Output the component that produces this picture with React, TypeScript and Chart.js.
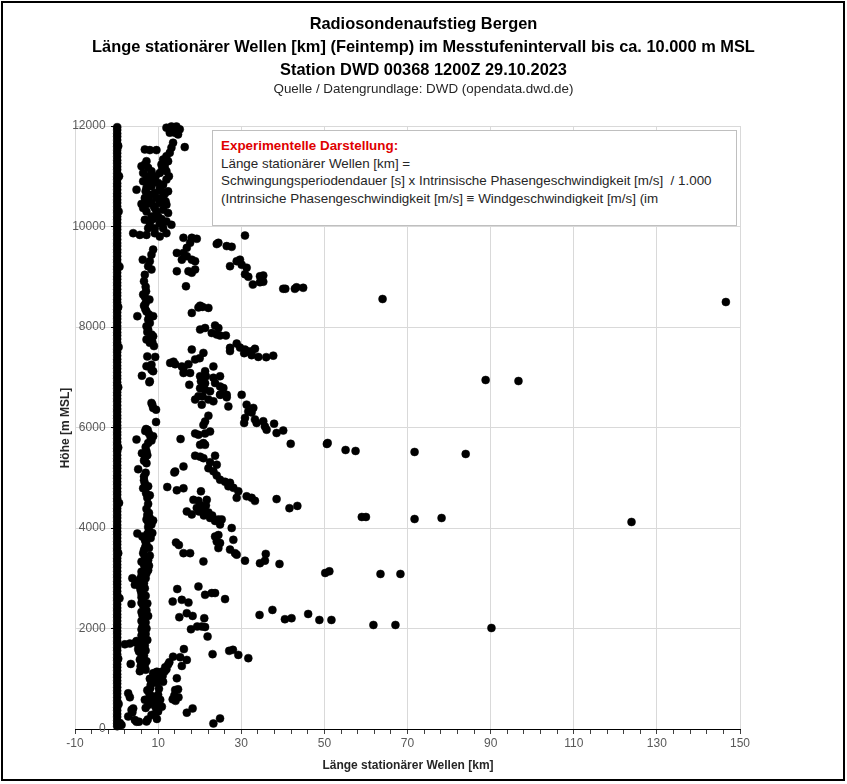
import { useEffect, useRef } from "react";
import { Chart, registerables } from "chart.js";

Chart.register(...registerables);

const FONT = "'Liberation Sans Narrow', 'Liberation Sans', Arial, sans-serif";

const titleLines = [
  "Radiosondenaufstieg Bergen",
  "Länge stationärer Wellen [km] (Feintemp) im Messtufenintervall bis ca. 10.000 m MSL",
  "Station DWD 00368 1200Z 29.10.2023",
];
const subtitle = "Quelle / Datengrundlage: DWD (opendata.dwd.de)";
const noteTitle = "Experimentelle Darstellung:";
const noteLines = [
  "Länge stationärer Wellen [km] =",
  "Schwingungsperiodendauer [s] x Intrinsische Phasengeschwindigkeit [m/s]  / 1.000",
  "(Intrinsiche Phasengeschwindigkeit [m/s] ≡ Windgeschwindigkeit [m/s] (im",
];
const xTitle = "Länge stationärer Wellen [km]";
const yTitle = "Höhe [m MSL]";

const xLabels = [-10, 10, 30, 50, 70, 90, 110, 130, 150];
const yLabels = [0, 2000, 4000, 6000, 8000, 10000, 12000];

// heights of the dense column at ~0 km
const zeroColumnHeights = [
  55, 110, 170, 240, 300, 370, 430, 500, 560, 630, 700, 760, 830, 900, 960, 1030, 1090, 1160, 1230,
  1290, 1360, 1420, 1490, 1560, 1620, 1690, 1750, 1820, 1890, 1950, 2020, 2080, 2150, 2220, 2280,
  2350, 2410, 2480, 2550, 2610, 2680, 2740, 2810, 2880, 2940, 3010, 3070, 3140, 3210, 3270, 3340,
  3400, 3470, 3540, 3600, 3670, 3730, 3800, 3870, 3930, 4000, 4060, 4130, 4200, 4260, 4330, 4390,
  4460, 4530, 4590, 4660, 4720, 4790, 4860, 4920, 4990, 5050, 5120, 5190, 5250, 5320, 5380, 5450,
  5520, 5580, 5650, 5710, 5780, 5850, 5910, 5980, 6040, 6110, 6180, 6240, 6310, 6370, 6440, 6510,
  6570, 6640, 6700, 6770, 6840, 6900, 6970, 7030, 7100, 7170, 7230, 7300, 7360, 7430, 7500, 7560,
  7630, 7690, 7760, 7830, 7890, 7960, 8020, 8090, 8160, 8220, 8290, 8350, 8420, 8490, 8550, 8620,
  8680, 8750, 8820, 8880, 8950, 9010, 9080, 9150, 9210, 9280, 9340, 9410, 9480, 9540, 9610, 9670,
  9740, 9810, 9870, 9940, 10000, 10070, 10140, 10200, 10270, 10330, 10400, 10470, 10530, 10600,
  10660, 10730, 10800, 10860, 10930, 10990, 11060, 11130, 11190, 11260, 11320, 11390, 11460, 11520,
  11590, 11650, 11720, 11790, 11850, 11920, 11975,
];
const zeroBulges: [number, number][] = [
  [1.2, 80], [0.8, 120], [0.6, 11000], [0.5, 10300], [0.7, 9200], [0.5, 7600], [0.6, 4500], [0.7, 2600],
  [0.4, 11600], [0.4, 8400], [0.4, 6800], [0.4, 5600], [0.4, 3500], [0.4, 1400], [0.5, 500],
];

const innerColumn: [number, number][] = [
  [5.6, 1150], [6.0, 1200], [5.8, 1250], [6.0, 1310], [5.6, 1380], [6.2, 1430], [6.0, 1480], [5.4, 1540],
  [5.2, 1590], [5.8, 1640], [5.6, 1690], [4.8, 1750], [6.2, 1720], [6.4, 1800], [6.0, 1860], [6.4, 1920],
  [6.0, 1980], [6.2, 2030], [6.4, 2090], [6.0, 2150], [6.8, 2220], [6.2, 2270], [6.0, 2330], [6.8, 2400],
  [6.4, 2460], [6.0, 2510], [6.4, 2560], [6.0, 2620], [6.0, 2690], [5.8, 2760], [5.6, 2830], [5.2, 2920],
  [5.6, 2980], [6.0, 3050], [6.0, 3130], [7.6, 3160], [6.8, 3200], [6.6, 3270], [6.0, 3330], [7.6, 3360],
  [6.8, 3430], [6.4, 3500], [6.6, 3560], [6.9, 3620], [7.2, 3670], [7.0, 3720], [6.8, 3770], [6.2, 3830],
  [7.4, 3880], [7.8, 3950], [7.6, 4020], [8.4, 4070], [7.6, 4120], [7.2, 4170], [8.0, 4200], [7.4, 4260],
  [7.0, 1180], [6.8, 1280], [7.2, 1350], [6.6, 1460], [7.0, 1560], [6.8, 1660], [7.4, 1770], [7.0, 1890],
  [7.2, 2000], [7.0, 2120], [7.6, 2250], [7.2, 2360], [7.4, 2500], [7.0, 2650], [6.8, 2800], [6.6, 2900],
  [7.0, 3000], [7.2, 3100], [7.8, 3250], [8.0, 3450], [7.8, 3600], [8.2, 3800], [8.6, 3900], [8.8, 4150],
  [2.0, 1685], [3.2, 1700], [3.4, 1295], [3.6, 2490], [3.8, 3000], [4.4, 2870], [5.0, 3890], [4.6, 1720],
  [7.8, 4300], [7.2, 4380], [7.6, 4480], [7.4, 4600], [8.0, 4650], [7.1, 4690], [6.4, 4790], [7.6, 4830],
  [6.8, 4890], [6.6, 4950], [6.6, 5025], [7.0, 5100], [5.2, 5170], [7.2, 5290], [6.6, 5340], [6.8, 5390],
  [7.4, 5450], [6.1, 5490], [7.2, 5520], [7.0, 5610], [7.6, 5690], [8.4, 5740], [4.8, 5760], [8.2, 5800],
  [8.8, 5825], [7.8, 5880], [6.9, 5930], [7.5, 5950], [7.1, 5970], [9.5, 6110], [9.5, 6355], [8.6, 6455],
  [8.4, 6490], [8.8, 6390], [8.0, 6920], [7.9, 6900], [6.1, 7030], [8.8, 7120], [8.4, 7150], [7.2, 7220],
  [8.4, 7250], [9.3, 7405], [7.4, 7415], [9.0, 7620], [8.0, 7685], [8.6, 7700], [7.2, 7750], [8.8, 7815],
  [8.4, 7850], [7.4, 7900], [7.6, 7950], [7.2, 8015], [8.0, 8080], [7.6, 8150], [8.8, 8215], [5.0, 8215],
  [7.8, 8250], [7.2, 8310], [6.9, 8360], [6.6, 8425], [7.0, 8480], [7.9, 8545], [6.8, 8600], [6.4, 8645],
  [7.1, 8710], [7.0, 8800], [6.6, 8910], [6.8, 9040], [8.4, 9145], [7.6, 9210], [8.0, 9310], [6.3, 9340],
  [8.4, 9440], [8.8, 9540],
];

const topCluster: [number, number][] = [
  [12.0, 11967], [13.2, 11990], [14.4, 11990], [15.2, 11933], [12.8, 11867], [14.0, 11867], [14.8, 11833],
  [16.4, 11580], [13.6, 11667], [13.2, 11567], [12.8, 11467], [12.0, 11400], [11.2, 11333], [6.8, 11533],
  [8.0, 11520], [9.6, 11520], [10.8, 11233], [11.6, 11167], [12.0, 11100], [10.4, 11067], [6.0, 11200],
  [6.8, 11233], [7.6, 11167], [6.4, 11067], [7.2, 11000], [8.4, 11100], [8.8, 10967], [6.4, 10900],
  [7.6, 10867], [4.8, 10733], [7.2, 10767], [8.4, 10800], [10.0, 10867], [11.2, 10833], [12.0, 10933],
  [10.8, 10700], [9.2, 10667], [8.0, 10633], [6.8, 10567], [9.6, 10567], [11.2, 10567], [10.4, 10467],
  [12.0, 10433], [8.4, 10467], [6.4, 10367], [7.2, 10300], [9.2, 10367], [11.2, 10333], [12.4, 10267],
  [8.4, 10200], [10.0, 10200], [6.8, 10133], [8.0, 10067], [10.4, 10067], [12.0, 10100], [13.2, 10033],
  [9.2, 9967], [11.2, 9967], [7.6, 9967], [4.0, 9867], [5.6, 9833], [7.2, 9833], [9.2, 9867], [10.4, 9800],
  [12.0, 9867], [11.6, 11250], [12.4, 11300], [7.2, 11300], [8.0, 11000], [7.0, 10700], [10.4, 10750],
  [11.6, 10650], [9.0, 10400], [10.8, 10150], [7.4, 10450], [12.6, 11000], [9.6, 10300], [10.6, 10550],
  [11.8, 10500], [8.6, 10900], [9.4, 11000], [11.0, 11150], [12.4, 10700], [6.0, 10450], [7.8, 10550],
  [11.0, 10050], [8.8, 10150],
];

const streaks: [number, number][] = [
  [16.1, 9775], [18.1, 9775], [19.3, 9755], [17.7, 9675], [16.9, 9575], [14.5, 9475], [16.1, 9475],
  [15.7, 9340], [16.9, 9410], [18.1, 9340], [18.9, 9310], [14.5, 9110], [17.3, 9110], [18.9, 9145],
  [18.1, 9080], [16.7, 8810], [24.5, 9675], [24.1, 9650], [26.5, 9610], [27.7, 9595], [30.9, 9820],
  [27.3, 9210], [28.9, 9310], [29.7, 9340], [30.1, 9240], [31.3, 9180], [30.9, 9050], [31.7, 9000],
  [32.8, 8845], [34.5, 9010], [35.3, 9025], [34.5, 8890], [35.3, 8900], [40.1, 8760], [40.6, 8760],
  [42.9, 8760], [43.3, 8790], [44.9, 8780],
  [18.1, 8280], [20.1, 8425], [19.7, 8390], [20.7, 8400], [22.1, 8380], [20.1, 7950], [21.3, 7980],
  [23.7, 8030], [24.5, 7980], [22.9, 7880], [24.1, 7850], [24.9, 7830], [26.3, 7830], [27.3, 7585],
  [28.9, 7670], [27.3, 7520], [29.7, 7590], [30.9, 7550], [30.7, 7480], [31.7, 7510], [32.5, 7515],
  [33.3, 7565], [32.5, 7440], [34.1, 7405], [36.0, 7400], [37.7, 7430], [18.1, 7550], [20.9, 7485],
  [20.0, 7380], [12.9, 7285], [13.7, 7310], [14.1, 7260], [15.7, 7215], [16.1, 7180], [17.3, 7260],
  [18.9, 7355], [16.1, 7085], [17.7, 7085], [17.5, 6850], [20.1, 7020], [21.3, 7120], [21.5, 7020],
  [23.3, 7215], [20.3, 6920], [21.3, 6880], [23.3, 6990], [24.9, 7020], [23.7, 6885], [24.9, 6815],
  [25.7, 6785], [20.1, 6780], [21.3, 6750], [22.5, 6720], [19.7, 6620], [20.7, 6620], [24.9, 6650],
  [26.5, 6650], [30.1, 6650],
  [18.9, 6555], [20.5, 6455], [22.1, 6555], [23.3, 6520], [25.0, 6655], [26.5, 6600], [26.9, 6420],
  [31.3, 6455], [32.9, 6390], [31.7, 6320], [32.5, 6300], [30.9, 6190], [30.7, 6090], [33.3, 6160],
  [33.7, 6090], [35.3, 6125], [35.7, 6020], [36.1, 5955], [37.9, 6075], [38.5, 5890], [40.1, 5940],
  [41.9, 5675], [22.1, 6235], [21.3, 6120], [20.9, 6050], [22.5, 5920], [21.3, 5880], [19.7, 5855],
  [18.9, 5880], [15.4, 5770], [20.9, 5690], [20.1, 5655], [21.3, 5655],
  [18.9, 5440], [20.1, 5420], [20.9, 5390], [23.7, 5440], [22.5, 5310], [24.1, 5260], [22.1, 5190],
  [23.3, 5130], [24.1, 5045], [24.9, 4960], [26.1, 4920], [27.3, 4900], [26.9, 4830], [28.1, 4800],
  [29.3, 4730], [28.9, 4600], [31.3, 4630], [32.5, 4600], [33.3, 4540], [38.5, 4575], [41.6, 4395],
  [43.5, 4440], [14.1, 5125], [13.9, 5105], [16.1, 5225], [12.2, 4815], [14.5, 4750], [16.1, 4790],
  [20.3, 4730], [18.5, 4560], [19.7, 4540], [21.7, 4560], [16.9, 4330], [18.1, 4270], [19.3, 4400],
  [20.1, 4460], [20.9, 4370], [22.1, 4310], [22.5, 4200], [23.7, 4140], [24.9, 4070], [24.5, 4170],
  [25.3, 4170], [27.7, 4000], [21.0, 4250], [19.8, 4330], [23.0, 4250], [21.5, 4450],
  [23.7, 3830], [24.5, 3860], [24.1, 3730], [24.9, 3700], [24.5, 3600], [28.1, 3765], [27.3, 3570],
  [28.5, 3500], [28.9, 3470], [30.9, 3350], [20.9, 3335], [14.3, 3710], [15.0, 3660], [16.1, 3500],
  [17.7, 3500], [35.9, 3485], [34.5, 3300], [35.7, 3350], [39.2, 3285],
  [14.6, 2785], [19.7, 2835], [21.3, 2670], [22.9, 2705], [23.7, 2705], [26.1, 2585], [13.5, 2535],
  [15.7, 2570], [17.3, 2515], [15.1, 2225], [16.9, 2305], [18.3, 2250], [21.1, 2205], [17.9, 1985],
  [19.4, 2040], [20.5, 2040], [21.3, 2030], [21.9, 1840], [23.1, 1490], [27.1, 1555], [28.0, 1575],
  [29.3, 1475], [31.7, 1410], [34.4, 2270], [37.5, 2370], [40.5, 2185], [42.1, 2205],
];

const lowCluster: [number, number][] = [
  [2.8, 710], [3.2, 630], [3.6, 380], [4.0, 410], [3.8, 330], [2.8, 250], [4.4, 180], [4.8, 145],
  [5.4, 145], [7.2, 150], [7.5, 190], [9.7, 200], [8.8, 510], [9.6, 540], [7.6, 480], [9.3, 450],
  [10.9, 445], [9.7, 380], [6.8, 580], [8.1, 610], [10.0, 680], [8.1, 810], [7.4, 770], [8.2, 875],
  [8.8, 1110], [9.7, 1140], [10.9, 1140], [11.1, 1060], [10.5, 1010], [9.3, 1010], [11.7, 1230],
  [12.7, 1330], [13.6, 1440], [15.3, 1430], [16.9, 1375], [15.7, 1255], [14.5, 1010], [16.2, 1590],
  [14.1, 775], [14.8, 790], [13.9, 665], [14.9, 630], [16.9, 325], [18.3, 410], [23.3, 110], [24.9, 210],
  [9.2, 1115], [10.4, 1080], [11.6, 1148], [12.4, 1282], [8.5, 930], [9.0, 980], [7.9, 700], [10.2, 800],
  [12.0, 1190], [10.0, 350], [8.4, 280], [9.2, 300], [13.5, 590], [14.2, 560], [8.0, 1000], [9.6, 920],
  [11.2, 940], [7.0, 420], [10.5, 580], [8.6, 650],
];

const farPoints: [number, number][] = [
  [46.1, 2289], [48.8, 2170], [51.7, 2170], [61.8, 2070], [67.1, 2070], [90.2, 2010], [50.2, 3105],
  [51.2, 3138], [63.5, 3085], [68.3, 3085], [59.0, 4219], [60.0, 4219], [71.7, 4179], [78.2, 4199],
  [123.9, 4120], [50.6, 5672], [50.8, 5692], [55.1, 5552], [57.5, 5533], [71.7, 5513], [84.0, 5473],
  [88.8, 6945], [96.7, 6925], [64.0, 8557], [146.6, 8497],
];

const yLabelPlugin = {
  id: "yLabels",
  afterDraw(chart: Chart) {
    const { ctx, scales } = chart;
    const x0 = scales.x.getPixelForValue(0);
    ctx.save();
    ctx.font = `12px ${FONT}`;
    ctx.fillStyle = "#595959";
    ctx.textAlign = "right";
    ctx.textBaseline = "middle";
    yLabels.forEach((v) => ctx.fillText(String(v), x0 - 11, scales.y.getPixelForValue(v)));
    ctx.restore();
  },
};

export default function App() {
  const canvasRef = useRef<HTMLCanvasElement>(null);

  useEffect(() => {
    if (!canvasRef.current) return;
    const xTicks: number[] = [];
    for (let v = -10; v <= 150; v += 4) xTicks.push(v);
    const points = [
      ...zeroColumnHeights.map((h) => [0.15, h] as [number, number]),
      ...zeroBulges,
      ...innerColumn,
      ...topCluster,
      ...streaks,
      ...lowCluster,
      ...farPoints,
    ].map(([x, y]) => ({ x, y }));

    const chart = new Chart(canvasRef.current, {
      type: "scatter",
      data: {
        datasets: [
          {
            data: points,
            pointRadius: 4,
            pointBorderWidth: 0.5,
            backgroundColor: "#000",
            borderColor: "#000",
            clip: false,
          },
        ],
      },
      options: {
        responsive: false,
        animation: false,
        devicePixelRatio: 1,
        layout: { padding: { left: 75, top: 126, right: 107, bottom: 35 } },
        plugins: { legend: { display: false }, tooltip: { enabled: false } },
        scales: {
          x: {
            type: "linear",
            position: "bottom",
            min: -10,
            max: 150,
            afterBuildTicks: (s) => {
              s.ticks = xTicks.map((value) => ({ value }));
            },
            afterFit: (s) => {
              s.height = 20;
            },
            grid: {
              color: (c) => (xLabels.includes(c.tick.value) ? "#d9d9d9" : "rgba(0,0,0,0)"),
              tickColor: "#404040",
              tickLength: 5,
            },
            border: { color: "#000", width: 1 },
            ticks: {
              autoSkip: false,
              maxRotation: 0,
              padding: 2,
              color: "#595959",
              font: { family: FONT, size: 12 },
              callback: (v) => (xLabels.includes(Number(v)) ? String(v) : ""),
            },
          },
          y: {
            type: "linear",
            position: { x: 0 },
            min: 0,
            max: 12000,
            ticks: { stepSize: 2000, display: false },
            grid: {
              color: (c) => (c.tick.value === 0 ? "rgba(0,0,0,0)" : "#d9d9d9"),
              tickColor: "#000",
              tickLength: 5,
            },
            border: { color: "#000", width: 1 },
          },
        },
      },
      plugins: [yLabelPlugin],
    });
    return () => chart.destroy();
  }, []);

  return (
    <div
      style={{
        position: "absolute",
        left: 0,
        top: 0,
        width: 847,
        height: 784,
        background: "#fff",
        fontFamily: FONT,
        color: "#000",
        overflow: "hidden",
      }}
    >
      <canvas ref={canvasRef} width={847} height={784} style={{ position: "absolute", left: 0, top: 0 }} />
      {titleLines.map((t, i) => (
        <div
          key={t}
          style={{
            position: "absolute",
            left: 0,
            width: 847,
            top: 12 + i * 23,
            lineHeight: "22px",
            fontSize: 16.4,
            fontWeight: "bold",
            textAlign: "center",
            whiteSpace: "pre",
          }}
        >
          {t}
        </div>
      ))}
      <div
        style={{
          position: "absolute",
          left: 0,
          width: 847,
          top: 80,
          lineHeight: "18px",
          fontSize: 13.4,
          textAlign: "center",
          color: "#262626",
        }}
      >
        {subtitle}
      </div>
      <div
        style={{
          position: "absolute",
          left: 212,
          top: 130,
          width: 525,
          height: 96,
          boxSizing: "border-box",
          border: "1px solid #bfbfbf",
          background: "#fff",
          padding: "6px 8px",
          fontSize: 13.4,
          lineHeight: "17.5px",
          whiteSpace: "pre",
          color: "#262626",
        }}
      >
        <div style={{ color: "#e00000", fontWeight: "bold" }}>{noteTitle}</div>
        {noteLines.map((t) => (
          <div key={t}>{t}</div>
        ))}
      </div>
      <div
        style={{
          position: "absolute",
          left: 0,
          width: 816,
          top: 756,
          lineHeight: "18px",
          fontSize: 12,
          fontWeight: "bold",
          textAlign: "center",
          color: "#262626",
        }}
      >
        {xTitle}
      </div>
      <div
        style={{
          position: "absolute",
          left: 65 - 100,
          top: 428 - 9,
          width: 200,
          lineHeight: "18px",
          fontSize: 12,
          fontWeight: "bold",
          textAlign: "center",
          color: "#262626",
          transform: "rotate(-90deg)",
        }}
      >
        {yTitle}
      </div>
      <div
        style={{
          position: "absolute",
          left: 1,
          top: 1,
          width: 844,
          height: 780,
          boxSizing: "border-box",
          border: "2px solid #000",
          pointerEvents: "none",
        }}
      />
    </div>
  );
}
